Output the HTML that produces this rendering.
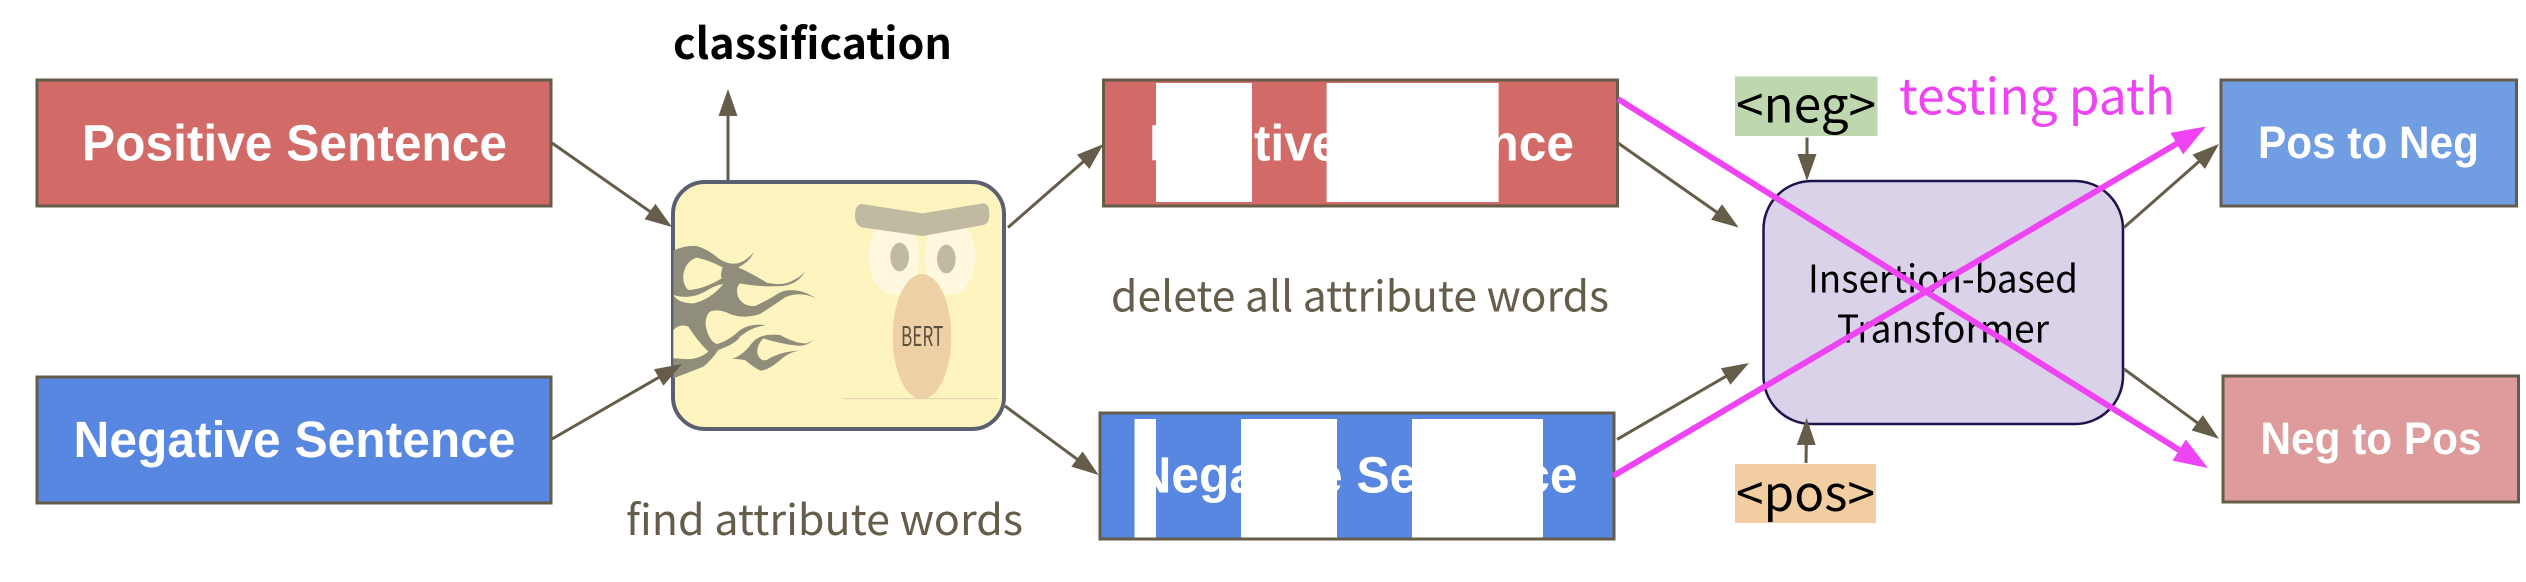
<!DOCTYPE html>
<html>
<head>
<meta charset="utf-8">
<style>
html,body{margin:0;padding:0;background:#fff;width:2526px;height:582px;overflow:hidden}
svg{display:block}
.w{font-family:"Liberation Sans",sans-serif;font-weight:bold;fill:#fff}
.n{font-family:"Noto Sans CJK JP","Liberation Sans",sans-serif}
.b{fill:none;stroke:#665c4a;stroke-width:3;marker-end:url(#ah)}
.m{fill:none;stroke:#ee44f4;stroke-width:6;marker-end:url(#mh)}
.box{stroke:#665c4a;stroke-width:3}
</style>
</head>
<body>
<svg width="2526" height="582" viewBox="0 0 2526 582" xmlns="http://www.w3.org/2000/svg">
<defs>
<marker id="ah" markerUnits="userSpaceOnUse" markerWidth="28" markerHeight="20" refX="15" refY="10" orient="auto"><path d="M0 .5L27 10L0 19.5Z" fill="#665c4a"/></marker>
<marker id="mh" markerUnits="userSpaceOnUse" markerWidth="35" markerHeight="26" refX="14" refY="13" orient="auto"><path d="M0 .5L34 13L0 25.5Z" fill="#ee44f4"/></marker>
</defs>

<!-- left boxes -->
<rect class="box" x="37" y="80" width="514" height="126" fill="#d26b68"/>
<text class="w" x="82" y="160.5" font-size="51" textLength="425" lengthAdjust="spacingAndGlyphs">Positive Sentence</text>
<rect class="box" x="37" y="377" width="514" height="126" fill="#5787e0"/>
<text class="w" x="73.5" y="457" font-size="51" textLength="442" lengthAdjust="spacingAndGlyphs">Negative Sentence</text>

<text class="n" x="673" y="59" font-size="43" font-weight="bold" textLength="279" lengthAdjust="spacingAndGlyphs" fill="#000">classification</text>

<!-- BERT -->
<line class="b" x1="728" y1="182" x2="728" y2="101"/>
<line class="b" x1="552" y1="143" x2="662.2" y2="220.1"/>
<rect x="673" y="182" width="331" height="247" rx="32" ry="32" fill="#fdf4c0" stroke="#5b6070" stroke-width="4"/>
<g transform="translate(640 160) scale(.33333)">
<path d="M610 716H1075" stroke="#d9d2ae" stroke-width="3" fill="none"/>
<ellipse cx="762" cy="290" rx="76" ry="115" fill="#fff8df"/>
<ellipse cx="930" cy="290" rx="76" ry="115" fill="#fff8df"/>
<path d="M665 132L848 160L1028 130Q1050 130 1048 165Q1048 190 1030 195L848 228L665 202Q645 195 645 165Q645 135 665 132Z" fill="#c0bba0"/>
<ellipse cx="779" cy="291" rx="28" ry="43" fill="#c0bba0"/>
<ellipse cx="919" cy="297" rx="28" ry="43" fill="#c0bba0"/>
<ellipse cx="846" cy="530" rx="88" ry="188" fill="#eed0a6"/>
<text class="n" x="783" y="558" font-size="82" textLength="127" lengthAdjust="spacingAndGlyphs" fill="#5b4f3d">BERT</text>
<path fill="#908e7b" d="M100 272Q135 255 170 258Q205 268 235 295Q270 318 300 308Q325 298 342 275Q330 305 295 322Q345 345 380 368Q430 380 465 358Q485 348 495 333Q478 370 430 378Q360 382 300 370Q285 385 295 412Q310 440 345 438Q385 420 420 397Q470 378 528 415Q480 392 435 412Q395 440 360 462Q310 478 270 462Q235 445 210 455Q190 475 200 510Q212 548 232 552Q270 540 300 510Q335 488 378 496Q335 500 300 530Q290 550 235 570Q215 600 190 620Q140 640 100 655Z"/>
<path fill="#fdf4c0" d="M130 345Q135 305 170 293Q205 300 248 322Q240 345 245 355Q190 388 145 390Q128 375 130 345Z"/>
<path fill="#fdf4c0" d="M100 405Q115 430 160 430Q210 420 250 372Q225 375 195 395Q150 420 100 405Z"/>
<path fill="#fdf4c0" d="M100 510Q120 490 145 500Q170 540 205 575Q175 600 135 597Q110 595 100 595Z"/>
<path fill="#908e7b" d="M277 596Q310 585 335 550Q360 518 420 525Q470 552 500 550Q518 545 525 530Q510 560 470 557Q415 550 370 535Q350 555 352 580Q360 605 380 600Q420 575 475 572Q440 580 415 605Q385 630 362 632Q345 625 315 600Q295 598 277 596Z"/>
</g>
<line class="b" x1="552" y1="439" x2="671.6" y2="370"/>
<text class="n" x="626" y="535" font-size="42" textLength="397" lengthAdjust="spacingAndGlyphs" fill="#665c4a">find attribute words</text>
<line class="b" x1="1008" y1="227.5" x2="1094.4" y2="152"/>
<line class="b" x1="1005" y1="406" x2="1089" y2="467.9"/>

<!-- deleted boxes -->
<rect class="box" x="1103.5" y="80" width="514" height="126" fill="#d26b68"/>
<text class="w" x="1149" y="160.5" font-size="51" textLength="425" lengthAdjust="spacingAndGlyphs">Positive Sentence</text>
<rect x="1156" y="83" width="96" height="119" fill="#fff"/>
<rect x="1326.6" y="83" width="172" height="119" fill="#fff"/>

<rect class="box" x="1100" y="413" width="514" height="126" fill="#5787e0"/>
<text class="w" x="1135.5" y="492.5" font-size="51" textLength="442" lengthAdjust="spacingAndGlyphs">Negative Sentence</text>
<rect x="1134.5" y="419" width="21.5" height="118.5" fill="#fff"/>
<rect x="1241" y="419" width="96" height="118.5" fill="#fff"/>
<rect x="1412" y="419" width="131" height="118.5" fill="#fff"/>

<text class="n" x="1111" y="311.5" font-size="42" textLength="498" lengthAdjust="spacingAndGlyphs" fill="#665c4a">delete all attribute words</text>

<line class="b" x1="1618" y1="143" x2="1728.8" y2="220.6"/>
<line class="b" x1="1617" y1="439.4" x2="1738.6" y2="369"/>

<!-- transformer -->
<rect x="1763.5" y="181" width="359.5" height="243" rx="48" ry="48" fill="#d9d2e9" stroke="#20124d" stroke-width="2.5"/>
<text class="n" x="1808" y="292.5" font-size="38" textLength="270" lengthAdjust="spacingAndGlyphs" fill="#000">Insertion-based</text>
<text class="n" x="1837" y="342.5" font-size="38" textLength="212" lengthAdjust="spacingAndGlyphs" fill="#000">Transformer</text>

<!-- tokens -->
<rect x="1735" y="76.5" width="142.5" height="59.5" fill="#bfd7ae"/>
<text class="n" x="1736" y="122.5" font-size="49" textLength="140" lengthAdjust="spacingAndGlyphs" fill="#000">&lt;neg&gt;</text>
<rect x="1735" y="464" width="141" height="59" fill="#f3cda2"/>
<text class="n" x="1736" y="511" font-size="49" textLength="139" lengthAdjust="spacingAndGlyphs" fill="#000">&lt;pos&gt;</text>
<line class="b" x1="1807" y1="137.5" x2="1807" y2="169"/>
<line class="b" x1="1806" y1="463" x2="1806.5" y2="430"/>

<text class="n" x="1899" y="114.5" font-size="50" textLength="276" lengthAdjust="spacingAndGlyphs" fill="#ee44f4">testing path</text>

<line class="b" x1="2124" y1="227.5" x2="2210" y2="151.9"/>
<line class="b" x1="2124" y1="369" x2="2209.3" y2="431.6"/>

<!-- right boxes -->
<rect class="box" x="2221" y="80" width="295.5" height="126" fill="#719ee3"/>
<text class="w" x="2258" y="158" font-size="45" textLength="221" lengthAdjust="spacingAndGlyphs">Pos to Neg</text>
<rect class="box" x="2223" y="376" width="295.5" height="126" fill="#dd9c9b"/>
<text class="w" x="2260.5" y="454" font-size="45" textLength="221" lengthAdjust="spacingAndGlyphs">Neg to Pos</text>

<!-- testing path -->
<line class="m" x1="1618" y1="99" x2="2191" y2="457.4"/>
<line class="m" x1="1613" y1="476" x2="2188.8" y2="136.6"/>
</svg>
</body>
</html>
